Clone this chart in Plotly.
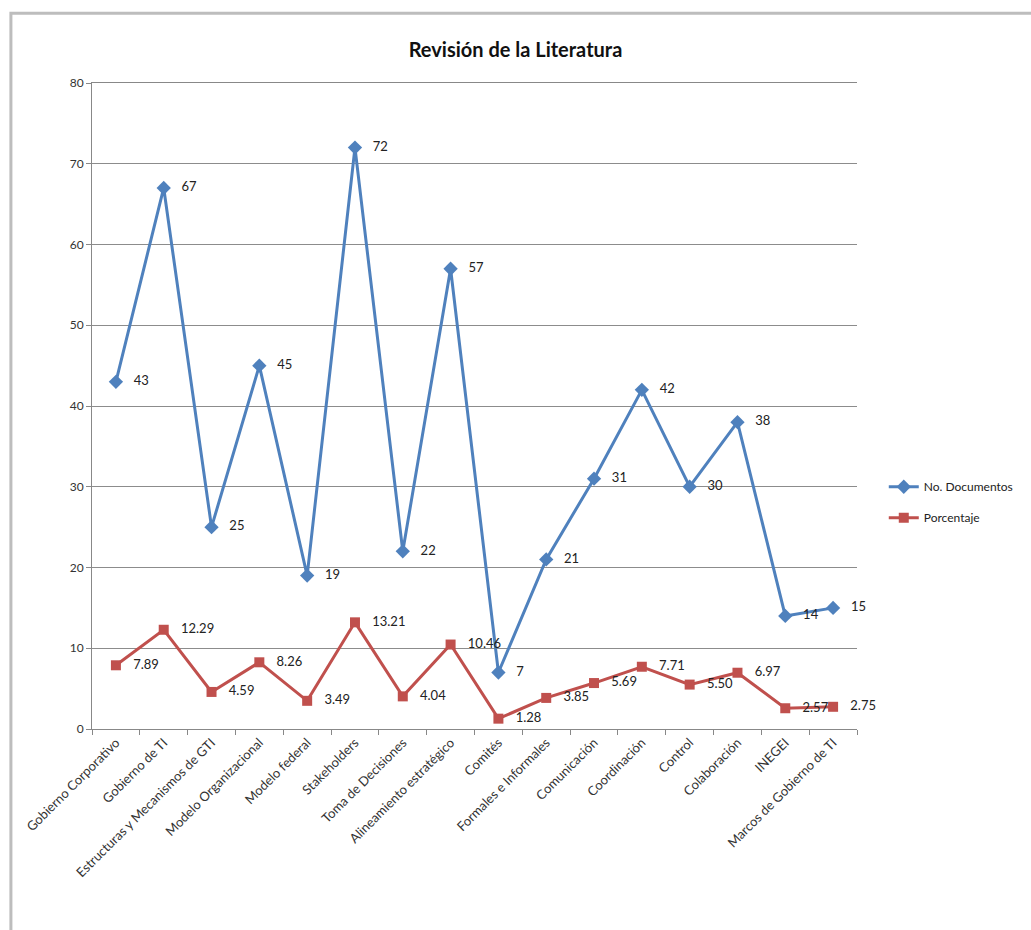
import plotly.graph_objects as go

categories = ["Gobierno Corporativo", "Gobierno de TI", "Estructuras y Mecanismos de GTI",
              "Modelo Organizacional", "Modelo federal", "Stakeholders", "Toma de Decisiones",
              "Alineamiento estratégico", "Comités", "Formales e Informales", "Comunicación",
              "Coordinación", "Control", "Colaboración", "INEGEI", "Marcos de Gobierno de TI"]
documentos = [43, 67, 25, 45, 19, 72, 22, 57, 7, 21, 31, 42, 30, 38, 14, 15]
porcentaje = [7.89, 12.29, 4.59, 8.26, 3.49, 13.21, 4.04, 10.46, 1.28, 3.85, 5.69, 7.71, 5.50, 6.97, 2.57, 2.75]

BLUE = "#4F81BD"
RED = "#C0504D"
FONT = "Lato"

fig = go.Figure()
fig.add_trace(go.Scatter(
    x=categories, y=documentos, name="No. Documentos", mode="lines+markers+text",
    legendgroup="a",
    line=dict(color=BLUE, width=3), marker=dict(symbol="diamond", size=11, color=BLUE),
    text=["   " + str(v) for v in documentos], textposition="middle right",
    textfont=dict(family=FONT, size=13, color="#222"), cliponaxis=False))
fig.add_trace(go.Scatter(
    x=categories, y=porcentaje, name="Porcentaje", mode="lines+markers+text",
    legendgroup="b",
    line=dict(color=RED, width=3), marker=dict(symbol="square", size=10, color=RED),
    text=["   " + f"{v:.2f}" for v in porcentaje], textposition="middle right",
    textfont=dict(family=FONT, size=13, color="#222"), cliponaxis=False))

fig.update_layout(
    width=1031, height=930,
    margin=dict(l=92, r=170, t=83, b=201),
    paper_bgcolor="white", plot_bgcolor="white",
    font=dict(family=FONT, size=12, color="#333"),
    title=dict(text="<b>Revisión de la Literatura</b>", x=0.5, xref="container", xanchor="center",
               y=1 - 50 / 930, yref="container", yanchor="middle",
               font=dict(family=FONT, size=20, color="#111")),
    legend=dict(x=1.035, y=0.351, xanchor="left", yanchor="middle",
                font=dict(family=FONT, size=12, color="#222"), tracegroupgap=12,
                traceorder="grouped", itemwidth=30),
    showlegend=True,
)
fig.update_xaxes(type="category", tickangle=-45, tickson="boundaries", ticks="outside",
                 ticklen=5, tickcolor="#888", showline=True, linecolor="#888", linewidth=1,
                 mirror=True,
                 showgrid=False, tickfont=dict(family=FONT, size=13, color="#333"),
                 range=[-0.5, 15.5])
fig.update_yaxes(range=[0, 80], dtick=10, showgrid=True, gridcolor="#8c8c8c", gridwidth=1,
                 showline=True, linecolor="#888", linewidth=1, ticks="outside", ticklen=5,
                 tickcolor="#888", zeroline=False,
                 tickfont=dict(family=FONT, size=12, color="#333"))
fig.add_shape(type="rect", xref="paper", yref="paper", x0=-0.106, x1=1.5, y0=-0.5, y1=1.108,
              line=dict(color="#bdbdbd", width=3), layer="below")
fig.write_html("out.html")
